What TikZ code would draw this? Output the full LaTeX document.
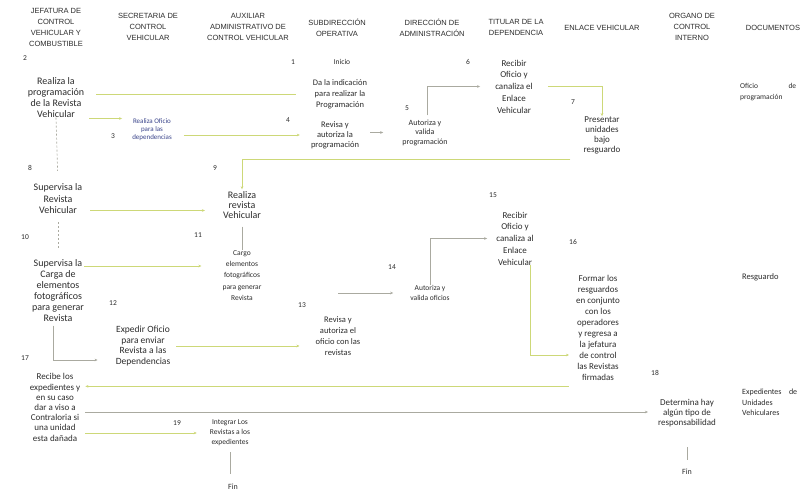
\documentclass[tikz,border=0pt]{standalone}
\usepackage{fontspec}
\setmainfont{Carlito}
\newfontfamily\hdfont{Liberation Sans}
\usetikzlibrary{arrows.meta}
\definecolor{lgreen}{RGB}{205,216,120}
\definecolor{lgray}{RGB}{170,170,160}
\definecolor{ofblue}{RGB}{60,70,140}
\definecolor{txt}{RGB}{45,45,45}
\tikzset{
  hd/.style={font=\hdfont\fontsize{7.5}{11}\selectfont, align=center, inner sep=0pt, text=txt},
  tx/.style={align=center, inner sep=0pt, text=txt},
  num/.style={font=\fontsize{7.5}{8}\selectfont, inner sep=0pt, text=txt},
  gl/.style={draw=lgreen, line width=0.7pt},
  gy/.style={draw=lgray, line width=0.7pt},
  dl/.style={draw=lgray, line width=0.7pt, dash pattern=on 2pt off 2pt},
  tip/.style={-{Stealth[length=3pt,width=2.6pt]}}
}
\newcommand{\fs}[2]{\fontsize{#1}{#2}\selectfont}
\begin{document}
\begin{tikzpicture}[x=1pt,y=-1pt]
\useasboundingbox[fill=white] (0,0) rectangle (803,494);
% headers
\node[hd] (h1) at (56,27) {JEFATURA DE\\CONTROL\\VEHICULAR Y\\COMBUSTIBLE};
\node[hd] (h2) at (148,27) {SECRETARIA DE\\CONTROL\\VEHICULAR};
\node[hd] (h3) at (248,27) {AUXILIAR\\ADMINISTRATIVO DE\\CONTROL VEHICULAR};
\node[hd] (h4) at (337,27.5) {SUBDIRECCIÓN\\OPERATIVA};
\node[hd] (h5) at (432,27.5) {DIRECCIÓN DE\\ADMINISTRACIÓN};
\node[hd] (h6) at (516,27.5) {TITULAR DE LA\\DEPENDENCIA};
\node[hd] (h7) at (602,28) {ENLACE VEHICULAR};
\node[hd] (h8) at (692,27) {ORGANO DE\\CONTROL\\INTERNO};
\node[hd] (h9) at (773,28) {DOCUMENTOS};
% numbers
\node[num] (n1) at (293,62) {1};
\node[num] (n2) at (25,58) {2};
\node[num] (n3) at (113,136) {3};
\node[num] (n4) at (288,120) {4};
\node[num] (n5) at (407,108) {5};
\node[num] (n6) at (468,62) {6};
\node[num] (n7) at (573,102) {7};
\node[num] (n8) at (30,168) {8};
\node[num] (n9) at (215,168) {9};
\node[num] (n10) at (25,237) {10};
\node[num] (n11) at (198,235) {11};
\node[num] (n12) at (113,303) {12};
\node[num] (n13) at (302,305) {13};
\node[num] (n14) at (392,267) {14};
\node[num] (n15) at (493,195) {15};
\node[num] (n16) at (573,242) {16};
\node[num] (n17) at (25,358) {17};
\node[num] (n18) at (655,373) {18};
\node[num] (n19) at (177,423) {19};
% steps
\node[tx,font=\fs{7.5}{9}] (ini) at (342,62) {Inicio};
\node[tx,font=\fs{10}{11}] (a1) at (56,97.5) {Realiza la\\programación\\de la Revista\\Vehicular};
\node[tx,font=\fs{8.5}{11}] (da) at (340,94) {Da la indicación\\para realizar la\\Programación};
\node[tx,font=\fs{9}{11.75}] (rec1) at (514,86.5) {Recibir\\Oficio y\\canaliza el\\Enlace\\Vehicular};
\node[tx,font=\fs{7}{8},text=ofblue] (ofi) at (152,130) {Realiza Oficio\\para las\\dependencias};
\node[tx,font=\fs{8.5}{10}] (rev1) at (335,135) {Revisa y\\autoriza la\\programación};
\node[tx,font=\fs{8}{9.5}] (aut1) at (425,132.5) {Autoriza y\\valida\\programación};
\node[tx,font=\fs{9}{10}] (pres) at (602,135) {Presentar\\unidades\\bajo\\resguardo};
\node[tx,font=\fs{10}{11.5}] (sup1) at (58,199) {Supervisa la\\Revista\\Vehicular};
\node[tx,font=\fs{10}{10}] (rr) at (242,205) {Realiza\\revista\\Vehicular};
\node[tx,font=\fs{10}{11}] (sup2) at (58,290.5) {Supervisa la\\Carga de\\elementos\\fotográficos\\para generar\\Revista};
\node[tx,font=\fs{7.5}{11.2}] (cargo) at (242,275.5) {Cargo\\elementos\\fotográficos\\para generar\\Revista};
\node[tx,font=\fs{9}{11.75}] (rec2) at (515,238.5) {Recibir\\Oficio y\\canaliza al\\Enlace\\Vehicular};
\node[tx,font=\fs{7.5}{10}] (aut2) at (430,293) {Autoriza y\\valida oficios};
\node[tx,font=\fs{9}{11}] (formar) at (598,327.5) {Formar los\\resguardos\\en conjunto\\con los\\operadores\\y regresa a\\la jefatura\\de control\\las Revistas\\firmadas};
\node[tx,font=\fs{9.5}{10.7}] (exp) at (143,346) {Expedir Oficio\\para enviar\\Revista a las\\Dependencias};
\node[tx,font=\fs{8.5}{11}] (rev2) at (338,336.5) {Revisa y\\autoriza el\\oficio con las\\revistas};
\node[tx,font=\fs{9}{10.2}] (recibe) at (55,407.5) {Recibe los\\expedientes y\\en su caso\\dar a viso a\\Contraloria si\\una unidad\\esta dañada};
\node[tx,font=\fs{9}{10}] (det) at (687,413) {Determina hay\\algún tipo de\\responsabilidad};
\node[tx,font=\fs{7.5}{10}] (integ) at (230,433) {Integrar Los\\Revistas a los\\expedientes};
\node[tx,font=\fs{8}{9}] (fin1) at (233,487) {Fin};
\node[tx,font=\fs{8}{9}] (fin2) at (687,472) {Fin};
% documents
\node[tx,font=\fs{7.5}{11},align=left,anchor=west] (d1) at (740,92.5) {\makebox[56pt][l]{Oficio\hfill de}\\programación};
\node[tx,font=\fs{8.5}{11},align=left,anchor=west] (d2) at (742,277) {Resguardo};
\node[tx,font=\fs{8}{10.5},align=left,anchor=west] (d3) at (742,402.5) {\makebox[55pt][l]{Expedientes\hfill de}\\Unidades\\Vehiculares};
% connectors
\draw[gl,shorten <=12pt,shorten >=17pt] (a1.east |- da) -- (da.west);
\coordinate (c2) at ([yshift=-21pt]a1.east);
\draw[gl,tip,shorten <=5pt,shorten >=10pt] (c2) -- (c2 -| ofi.west);
\draw[gl,tip,shorten <=12pt,shorten >=11pt] (ofi.east |- rev1) -- (rev1.west);
\draw[gy,tip,shorten <=11pt,shorten >=19pt] (rev1.east |- aut1) -- (aut1.west);
\draw[gy,tip,shorten <=4pt,shorten >=15pt] ([xshift=2pt]aut1.north) |- (rec1.west);
\draw[gl,tip,shorten <=15pt] (rec1.east) -| (pres.north);
\coordinate (c7) at ([xshift=-13pt,yshift=-5pt]pres.south west);
\draw[gl,tip,shorten >=2pt] (c7) -| (rr.north);
\draw[dl,shorten >=13pt] (a1.south) -- (sup1.north);
\coordinate (c9) at ([yshift=-11.5pt]sup1.east);
\draw[gl,tip,shorten <=8pt,shorten >=18pt] (c9) -- (c9 -| rr.west);
\draw[dl,shorten <=8pt,shorten >=10pt] (sup1.south) -- (sup2.north);
\draw[gy,shorten <=8pt] (rr.south) -- (cargo.north);
\coordinate (c12) at ([yshift=9.5pt]cargo.west);
\draw[gl,tip,shorten >=21pt] (sup2.east |- c12) -- (c12);
\coordinate (c13) at ([yshift=-14pt]exp.west);
\draw[gy,tip,shorten <=4pt,shorten >=18pt] ([xshift=-5pt]sup2.south) |- (c13);
\draw[gl,tip,shorten <=6pt,shorten >=16pt] (exp.east) -- (exp.east -| rev2.west);
\draw[gy,tip,shorten >=17pt] (rev2.north |- aut2.west) -- (aut2.west);
\draw[gy,tip,shorten >=9pt] (aut2.north) |- (rec2.west);
\coordinate (c17) at ([yshift=-27.5pt]formar.west);
\draw[gl,tip,shorten >=7pt] ([xshift=15pt]rec2.south) |- (c17);
\coordinate (c18) at ([yshift=-6pt]formar.south west);
\draw[gl,tip,shorten <=7pt,shorten >=5pt] (c18) -- (c18 -| recibe.east);
\coordinate (c19) at ([yshift=-4.5pt]recibe.east);
\draw[gy,tip,shorten <=5pt,shorten >=10pt] (c19) -- (c19 -| det.west);
\draw[gl,tip,shorten <=5pt,shorten >=13pt] (recibe.east |- integ) -- (integ.west);
\draw[gy,shorten <=6pt,shorten >=10pt] (integ.south) -- (integ.south |- fin1.north);
\draw[gy,shorten <=20pt,shorten >=9pt] (det.south) -- (fin2.north);
\end{tikzpicture}
\end{document}
